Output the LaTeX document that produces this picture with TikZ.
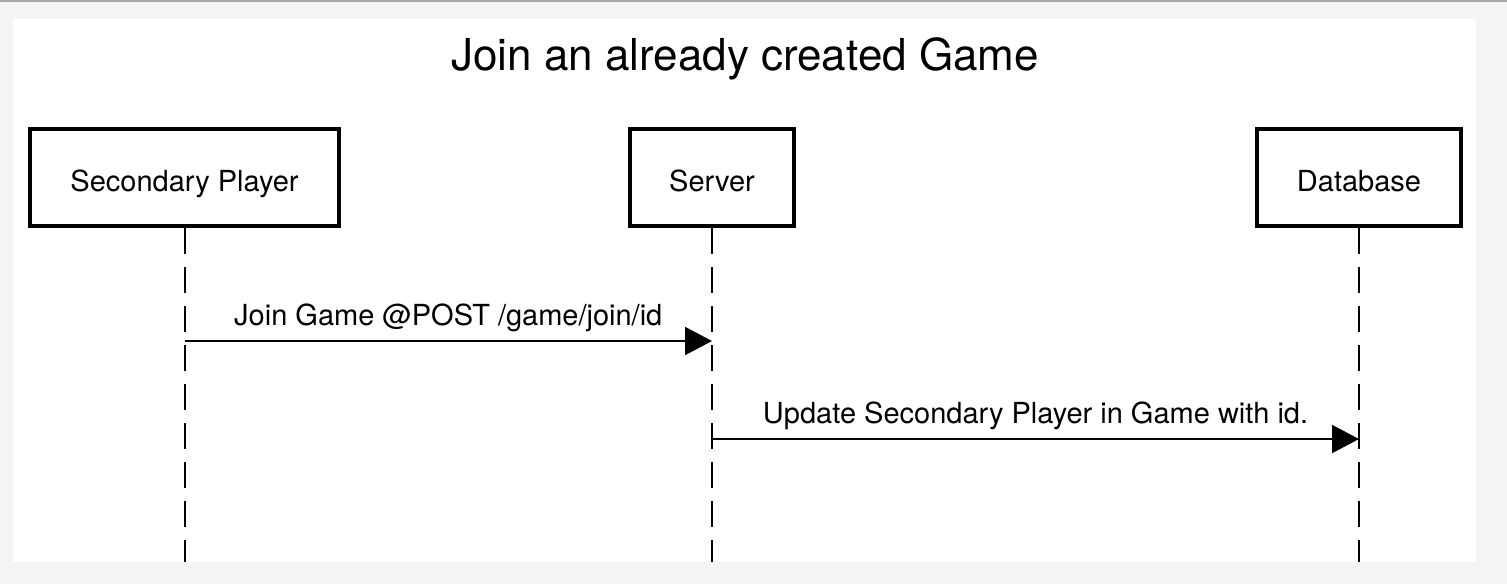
\documentclass[tikz,border=0pt]{standalone}
\usepackage{fontspec}
\setmainfont{TeX Gyre Heros}
\usetikzlibrary{arrows.meta}
\definecolor{pagegray}{HTML}{F4F4F4}
\definecolor{rulegray}{HTML}{A8A8A8}
\begin{document}
\begin{tikzpicture}[x=0.5pt,y=-0.5pt,
    actor/.style={draw,line width=2.2pt,fill=white,minimum height=48.3pt,
      text height=16pt,text depth=2.5pt,font=\fontsize{14.5pt}{17pt}\selectfont},
    lifeline/.style={line width=1pt,dash pattern=on 13pt off 6.5pt},
    msg/.style={line width=1pt,-{Triangle[length=13.5pt,width=14pt]}},
    msglabel/.style={above,inner sep=4pt,font=\fontsize{14.5pt}{17pt}\selectfont}]
  % page and panel
  \fill[pagegray] (0,0) rectangle (1507,584);
  \fill[rulegray] (0,0) rectangle (1507,2);
  \fill[white] (13,19) rectangle (1476,562);
  \useasboundingbox (0,0) rectangle (1507,584);
  \node (title) at (745,59) {\fontsize{22pt}{26pt}\selectfont Join an already created Game};
  % actors
  \node[actor,minimum width=154.3pt] (player) at (184.5,177.5) {Secondary Player};
  \node[actor,minimum width=81.8pt] (server) at (712,177.5) {Server};
  \node[actor,minimum width=101.8pt] (db) at (1359,177.5) {Database};
  \coordinate (bottom) at (0,562);
  \coordinate (m1) at (0,341);
  \coordinate (m2) at (0,439);
  \begin{scope}[lifeline]
    \draw (player.south) to (player |- bottom);
    \draw (server.south) to (server |- bottom);
    \draw (db.south) to (db |- bottom);
  \end{scope}
  % messages
  \draw[msg] (player |- m1) to node[msglabel]{Join Game @POST /game/join/id} (server |- m1);
  \draw[msg] (server |- m2) to node[msglabel]{Update Secondary Player in Game with id.} (db |- m2);
\end{tikzpicture}
\end{document}
